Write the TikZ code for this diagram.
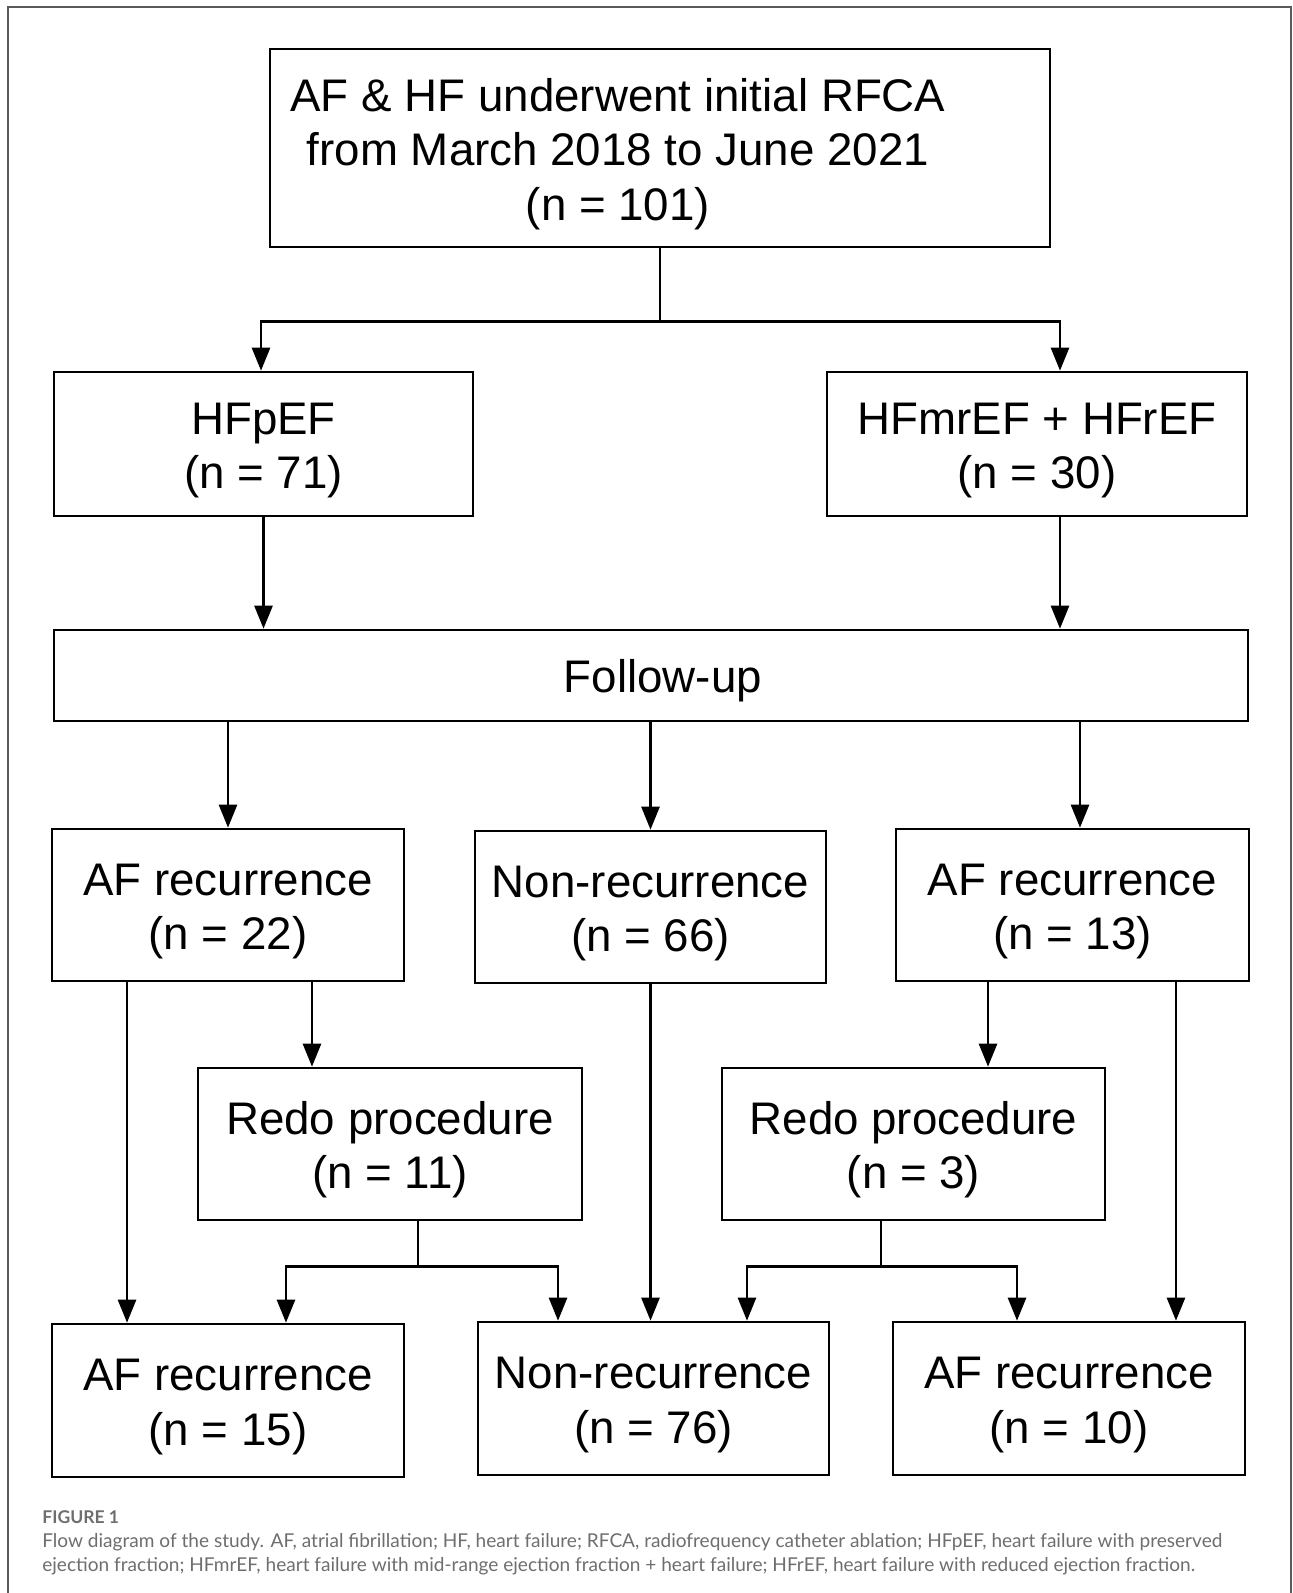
\documentclass[tikz,border=0pt]{standalone}
\usepackage{fontspec}
\setmainfont{Liberation Sans}
\newfontfamily\capfont{Lato}
\usetikzlibrary{arrows.meta,calc,positioning}
\definecolor{capgray}{HTML}{6E6E6E}
\definecolor{framegray}{HTML}{5A5A5A}

\begin{document}
\begin{tikzpicture}[x=0.02cm,y=-0.02cm,
    box/.style={draw,line width=1.5pt,align=center,inner sep=0pt,
      font=\fontsize{26}{31}\selectfont,text height=56.5pt,text depth=5.5pt},
    txt/.style={align=center,inner sep=0pt,font=\fontsize{26}{31}\selectfont},
    size/.style 2 args={minimum width=#1*0.02cm,minimum height=#2*0.02cm},
    link/.style={line width=1.5pt},
    arr/.style={line width=1.5pt,-{Triangle[length=0.46cm,width=0.36cm]}}]
\useasboundingbox (0,0) rectangle (1293,1593);
\draw[framegray,line width=0.9pt] (8,1593) -- (8,7) -- (1291,7) -- (1291,1593);

% boxes
\node[draw,line width=1.5pt,size={780}{198}] (start) at (660,148) {};
\node[txt] (starttext) at ($(start)+(-42,6)$) {AF \& HF underwent initial RFCA\\from March 2018 to June 2021\\(n = 101)};
\node[box,size={419}{144}] (hfpef) at (263.5,444) {HFpEF\\(n = 71)};
\node[box,size={420}{144}] (hfmr) at (1037,444) {HFmrEF + HFrEF\\(n = 30)};
\node[draw,line width=1.5pt,size={1194}{91}] (follow) at (651,675.5) {};
\node[txt] (followtext) at ($(follow)+(12,5)$) {Follow-up};
\node[box,size={352}{152}] (af22) at (228,905) {AF recurrence\\(n = 22)};
\node[box,size={351}{152}] (non66) at (650.5,907) {Non-recurrence\\(n = 66)};
\node[box,size={353}{152}] (af13) at (1072.5,905) {AF recurrence\\(n = 13)};
\node[box,size={384}{152}] (redo11) at (390,1144) {Redo procedure\\(n = 11)};
\node[box,size={383}{152}] (redo3) at (913.5,1144) {Redo procedure\\(n = 3)};
\node[box,size={352}{153}] (af15) at (228,1400.5) {AF recurrence\\(n = 15)};
\node[box,size={351}{153}] (non76) at (653.5,1398.5) {Non-recurrence\\(n = 76)};
\node[box,size={352}{153}] (af10) at (1069,1398.5) {AF recurrence\\(n = 10)};

% connectors
\draw[link] (start.south) -- ++(0,73) coordinate (split0);
\draw[arr] (split0) -| ([xshift=-0.05cm]hfpef.north);
\draw[arr] (split0) -| ([xshift=0.46cm]hfmr.north);
\draw[arr] (hfpef.south) -- (hfpef.south |- follow.north);
\draw[arr] ([xshift=0.46cm]hfmr.south) -- ([xshift=0.46cm]hfmr.south |- follow.north);
\draw[arr] (follow.south -| af22.north) -- (af22.north);
\draw[arr] (follow.south -| non66.north) -- (non66.north);
\draw[arr] ([xshift=0.15cm]af13.north |- follow.south) -- ([xshift=0.15cm]af13.north);
\draw[arr] ([xshift=-2.02cm]af22.south) -- ([xshift=-2.02cm]af22.south |- af15.north);
\draw[arr] ([xshift=1.68cm]af22.south) -- ([xshift=1.68cm]af22.south |- redo11.north);
\draw[arr] (non66.south) -- (non66.south |- non76.north);
\draw[arr] ([xshift=-1.69cm]af13.south) -- ([xshift=-1.69cm]af13.south |- redo3.north);
\draw[arr] ([xshift=2.07cm]af13.south) -- ([xshift=2.07cm]af13.south |- af10.north);
\draw[link] ([xshift=0.56cm]redo11.south) -- ++(0,45) coordinate (join11);
\draw[arr] (join11) -| ([xshift=1.16cm]af15.north);
\draw[arr] (join11) -| ([xshift=-1.91cm]non76.north);
\draw[link] ([xshift=-0.65cm]redo3.south) -- ++(0,45) coordinate (join3);
\draw[arr] (join3) -| ([xshift=1.87cm]non76.north);
\draw[arr] (join3) -| ([xshift=-1.04cm]af10.north);

% caption
\node[anchor=west,inner sep=0pt,text=capgray,font=\capfont\bfseries\fontsize{10}{12}\selectfont] (figlabel) at (42,1517) {FIGURE 1};
\node[anchor=north west,inner sep=0pt,align=left,text=capgray,font=\capfont\fontsize{10.85}{13.9}\selectfont] (caption) at (42,1533) {Flow diagram of the study. AF, atrial fibrillation; HF, heart failure; RFCA, radiofrequency catheter ablation; HFpEF, heart failure with preserved\\ejection fraction; HFmrEF, heart failure with mid-range ejection fraction + heart failure; HFrEF, heart failure with reduced ejection fraction.};
\end{tikzpicture}
\end{document}
